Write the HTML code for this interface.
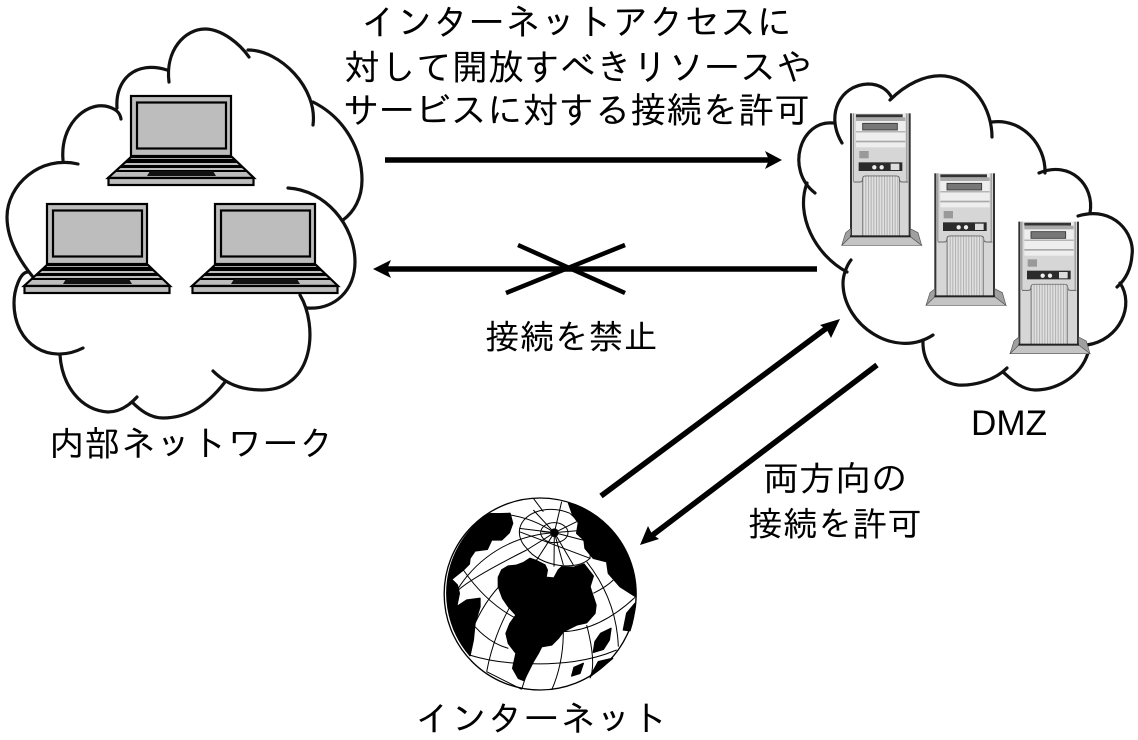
<!DOCTYPE html>
<html><head><meta charset="utf-8"><style>
html,body{margin:0;padding:0;background:#fff;width:1138px;height:740px;overflow:hidden}
svg{display:block}
text{font-family:"IPAGothic","Liberation Sans","Noto Sans CJK JP",sans-serif;fill:#000}
.c{fill:none;stroke:#111;stroke-width:3.2;stroke-linecap:round}
</style></head><body>
<svg width="1138" height="740" viewBox="0 0 1138 740" xmlns="http://www.w3.org/2000/svg">
<defs>
<pattern id="st" width="8" height="10" patternUnits="userSpaceOnUse"><rect width="8" height="10" fill="#e0e0e0"/><rect width="3" height="10" fill="#b0b0b0"/></pattern>
<g id="lap">
<rect x="131" y="96" width="100" height="60" fill="#bdbdbd" stroke="#000" stroke-width="2.200"/>
<rect x="137" y="102.500" width="89" height="46" fill="#bdbdbd" stroke="#000" stroke-width="2.200"/>
<path d="M131,157 H232 L254,178 H108 Z" fill="#bdbdbd" stroke="#000" stroke-width="2.200"/>
<path d="M128,159 H235 L238,163 H125 Z M123,165 H240 L243,168 H119 Z M118,170 H245 L248,172 H116 Z" fill="#000"/>
<path d="M150,171 H213 L216,176 H147 Z" fill="#111"/>
<rect x="108.500" y="178" width="145" height="7" fill="#bdbdbd" stroke="#000" stroke-width="2.200"/>
</g>
<g id="srv">
<rect x="210" y="130" width="182" height="372" fill="#d6d6d6"/>
<rect x="210" y="130" width="6" height="372" fill="#333"/><rect x="386" y="130" width="6" height="372" fill="#333"/>
<rect x="219" y="130" width="3" height="205" fill="#888"/><rect x="379" y="130" width="3" height="205" fill="#888"/>
<rect x="228" y="130" width="148" height="102" fill="#eeeeee"/>
<rect x="228" y="133" width="140" height="9" fill="#333"/>
<rect x="228" y="142" width="148" height="11" fill="#aaa"/>
<rect x="248" y="160" width="104" height="20" fill="#777" stroke="#333" stroke-width="2.500"/>
<rect x="228" y="184" width="148" height="3" fill="#999"/>
<rect x="228" y="212" width="148" height="5" fill="#aaa"/>
<rect x="238" y="243" width="28" height="22" fill="#999"/>
<rect x="236" y="277" width="131" height="26" fill="#2b2b2b"/>
<rect x="332" y="281" width="26" height="19" fill="#ddd"/>
<circle cx="283" cy="292" r="6.500" fill="#eee"/><circle cx="305" cy="292" r="6.500" fill="#eee"/>
<path d="M221,336 H240 Q248,336 248,326 Q248,318 258,318 H348 Q358,318 358,326 Q358,336 366,336 H384" fill="none" stroke="#666" stroke-width="3"/>
<path d="M248,498 V326 Q248,318 258,318 H348 Q358,318 358,326 V498 Z" fill="url(#st)" stroke="#666" stroke-width="2"/>
<path d="M210,500 H392 L425,526 H185 Z" fill="#c4c4c4" stroke="#555" stroke-width="2"/>
<path d="M185,526 L197,488 L212,476 V500 Z M425,526 L414,488 L391,476 V500 Z" fill="#a0a0a0" stroke="#555" stroke-width="2"/>
<rect x="210" y="496" width="182" height="6" fill="#222"/>
</g>
</defs>

<!-- left cloud -->
<path class="c" d="M169,82 C165,50 185,29 205,29 C222,29 240,44 249,57"/>
<path class="c" d="M248,50 C280,50 318,88 313,125"/>
<path class="c" d="M313,102 C345,118 362,150 362,180 C362,198 354,212 343,220"/>
<path class="c" d="M288,188 C325,190 355,225 355,262 C355,290 335,310 307,308"/>
<path class="c" d="M300,295 C318,325 315,390 262,390 C240,390 225,383 213,371"/>
<path class="c" d="M225,382 C205,408 185,418 163,418 C150,418 140,410 132,402"/>
<path class="c" d="M137,397 C125,410 115,412 108,412 C80,410 62,385 60,355"/>
<path class="c" d="M83,348 C50,365 14,345 14,303 C14,290 20,272 28,272"/>
<path class="c" d="M33,277 C15,255 7,235 7,217 C7,185 40,155 78,164"/>
<path class="c" d="M63,160 C60,125 85,103 105,106 C115,108 120,112 121,119"/>
<path class="c" d="M117,108 C115,80 135,60 167,70"/>
<use href="#lap"/>
<use href="#lap" x="-84" y="108"/>
<use href="#lap" x="84" y="108"/>

<!-- right cloud -->
<path class="c" d="M842,143 C825,115 840,85 868,84 C880,84 888,90 892,98"/>
<path class="c" d="M890,100 C905,85 925,74 945,76 C975,80 992,110 992,137"/>
<path class="c" d="M992,122 C1022,118 1046,145 1045,173"/>
<path class="c" d="M1039,173 C1070,160 1095,185 1090,213"/>
<path class="c" d="M1078,216 C1115,205 1135,235 1132,255 C1131,270 1125,280 1117,287"/>
<path class="c" d="M1120,283 C1135,305 1120,340 1087,345"/>
<path class="c" d="M1088,353 C1080,378 1055,390 1035,390 C1022,390 1012,380 1003,372"/>
<path class="c" d="M1007,368 C995,380 975,386 958,385 C935,382 922,360 923,340"/>
<path class="c" d="M933,335 C895,360 843,325 843,283 C843,275 847,265 851,260"/>
<path class="c" d="M847,272 C815,255 795,215 807,183"/>
<path class="c" d="M815,193 C785,170 800,120 833,123"/>
<g transform="translate(780,70) scale(.33333)">
<use href="#srv"/>
<use href="#srv" x="253" y="180"/>
<use href="#srv" x="505" y="325"/>
</g>

<!-- arrows -->
<g stroke="#000" stroke-width="5.500" fill="none">
<path d="M385,160 H770"/>
<path d="M817,269 H384"/>
<path d="M518,245 L625,293 M506,293 L625,245" stroke-width="4.500"/>
<path d="M601,496 L828,327"/>
<path d="M877,365 L650,537"/>
</g>
<path d="M782,160 L765,151 L769,160 L765,169 Z" fill="#000"/>
<path d="M373,269 L391,260 L387,269 L391,278 Z" fill="#000"/>
<path d="M840,319 L820,325 L827,330 L831,338 Z" fill="#000"/>
<path d="M640,545 L659,539 L652,534 L648,526 Z" fill="#000"/>

<!-- globe -->
<g transform="translate(430,490) scale(.33333)">
<circle cx="330.500" cy="312" r="288" fill="#fff"/>
<g fill="#000" stroke="#000" stroke-width="4" stroke-linejoin="round">
<path d="M175,72 L240,70 L248,100 L238,128 L215,150 L185,150 L172,178 L135,183 L120,205 L118,222 L100,240 L65,268 L82,285 L88,310 L80,350 L110,330 L150,325 L150,350 L135,400 L130,450 L120,497 A288,288 0 0 1 175,72 Z"/>
<path d="M415,38 L428,75 L445,98 L440,130 L462,150 L465,175 L490,205 L530,215 L535,250 L570,290 L617,320 A288,288 0 0 0 415,38 Z"/>
<path d="M205,262 L215,240 L235,228 L258,226 L280,218 L300,205 L320,212 L345,225 L352,240 L348,262 L372,264 L385,240 L395,230 L430,232 L462,222 L490,258 L480,290 L488,315 L498,345 L495,370 L470,398 L440,405 L400,425 L385,445 L365,465 L335,470 L325,490 L310,515 L290,555 L282,572 L265,565 L248,535 L258,490 L235,460 L228,430 L240,400 L258,375 L235,350 L218,325 L205,290 Z"/>
<path d="M543,415 L512,430 L495,455 L490,487 L520,478 L538,450 Z M460,520 L432,532 L425,558 L450,550 Z M615,340 L590,370 L580,420 L600,422 A288,288 0 0 0 615,340 Z M548,505 L505,515 L480,560 L510,537 Z"/>
</g>
<circle cx="373" cy="128" r="13" fill="#000"/>
<g fill="none" stroke="#000" stroke-width="3">
<circle cx="330.500" cy="312" r="288" stroke-width="4"/>
<path d="M268,125 C270,70 350,40 420,70 M480,205 C440,245 330,230 290,175 C275,160 268,145 268,125 Z"/>
<path d="M420,70 Q490,130 480,205"/>
<ellipse cx="373" cy="128" rx="41" ry="30"/>
<path d="M373,128 L268,115 M373,128 L335,125 M373,128 L310,60 M373,128 L395,35 M373,128 L440,95 M373,128 L445,122 M373,128 L465,152 M373,128 L430,225 M373,128 L400,225 M373,128 L372,230 M373,128 L320,210 M373,128 L290,180"/>
<path d="M180,70 Q290,70 373,128 M373,128 Q210,140 110,260 Q90,285 82,300"/>
<path d="M320,210 Q200,260 135,400 M290,180 Q130,260 85,300"/>
<path d="M310,25 L340,65"/>
<path d="M100,240 Q170,340 258,385 M135,410 Q180,460 235,475 M118,495 Q200,520 285,520 Q350,525 430,515 Q500,505 560,480"/>
<path d="M240,350 Q190,440 170,545 M400,425 Q400,520 365,600 M470,405 Q500,520 480,565 M470,215 Q560,330 565,470 M400,425 Q510,420 615,322 M490,310 Q530,290 550,270 M170,545 L275,598"/>
<path d="M300,520 L275,598"/>
</g>
</g>

<!-- labels -->
<text x="361" y="35" font-size="36" textLength="431" lengthAdjust="spacingAndGlyphs">インターネットアクセスに</text>
<text x="344" y="80" font-size="36" textLength="468" lengthAdjust="spacingAndGlyphs">対して開放すべきリソースや</text>
<text x="343" y="123" font-size="36" textLength="467" lengthAdjust="spacingAndGlyphs">サービスに対する接続を許可</text>
<text x="485" y="349" font-size="34" textLength="173" lengthAdjust="spacingAndGlyphs">接続を禁止</text>
<text x="49" y="456" font-size="35" textLength="285" lengthAdjust="spacingAndGlyphs">内部ネットワーク</text>
<text x="971" y="435" font-size="35" style="font-family:'Liberation Sans',sans-serif" textLength="76" lengthAdjust="spacingAndGlyphs">DMZ</text>
<text x="763" y="491" font-size="35" textLength="144" lengthAdjust="spacingAndGlyphs">両方向の</text>
<text x="748" y="536" font-size="34" textLength="174" lengthAdjust="spacingAndGlyphs">接続を許可</text>
<text x="415" y="731" font-size="35" textLength="253" lengthAdjust="spacingAndGlyphs">インターネット</text>
</svg>
</body></html>
